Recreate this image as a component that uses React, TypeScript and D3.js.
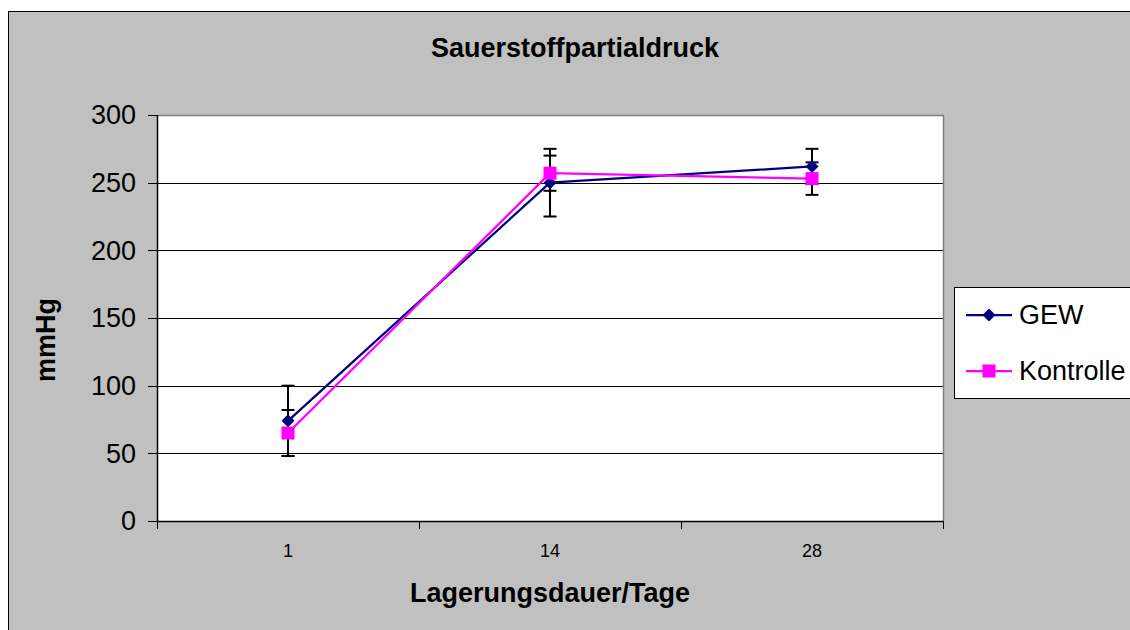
import React from "react";
import * as d3 from "d3";

const categories = ["1", "14", "28"];
const yTicks = [0, 50, 100, 150, 200, 250, 300];
const gewValues = [74, 250, 262];
const gewErrors = [26, 25, 13];
const kontrolleValues = [65, 257, 253];
const kontrolleErrors = [17, 13, 12];
const seriesNames = ["GEW", "Kontrolle"];

const W = 1130;
const H = 630;
const plot = { left: 157, right: 943, top: 115, bottom: 521 };
const FONT = "Liberation Sans, Arial, sans-serif";

export default function App() {
  const x = d3.scaleBand<string>().domain(categories).range([plot.left, plot.right]);
  const y = d3.scaleLinear().domain([0, 300]).range([plot.bottom, plot.top]);
  const cx = (c: string) => (x(c) as number) + x.bandwidth() / 2;
  const line = d3
    .line<number>()
    .x((_, i) => cx(categories[i]))
    .y((v) => y(v));

  const series = [
    { name: seriesNames[0], values: gewValues, errors: gewErrors, color: "#000080", marker: "diamond" },
    { name: seriesNames[1], values: kontrolleValues, errors: kontrolleErrors, color: "#FF00FF", marker: "square" },
  ];

  const marker = (kind: string, px: number, py: number, color: string, key: string) =>
    kind === "diamond" ? (
      <path key={key} d={`M${px},${py - 6.5}L${px + 6.5},${py}L${px},${py + 6.5}L${px - 6.5},${py}Z`} fill={color} />
    ) : (
      <rect key={key} x={px - 6.5} y={py - 6.5} width={13} height={13} fill={color} />
    );

  const boundaries = [...categories.map((c) => x(c) as number), plot.right];

  return (
    <svg width={W} height={H} style={{ position: "absolute", left: 0, top: 0 }}>
      <rect x={0} y={0} width={W} height={H} fill="#ffffff" />
      <rect x={8.5} y={11.5} width={1140} height={640} fill="#c0c0c0" stroke="#000" strokeWidth={1} />
      {/* title */}
      <text x={575} y={57} textAnchor="middle" fontFamily={FONT} fontWeight="bold" fontSize={27}>
        Sauerstoffpartialdruck
      </text>
      {/* plot area */}
      <rect x={plot.left} y={plot.top} width={plot.right - plot.left} height={plot.bottom - plot.top} fill="#fff" />
      {yTicks.slice(1).map((t) => (
        <line key={"g" + t} x1={plot.left} x2={plot.right} y1={Math.round(y(t)) + 0.5} y2={Math.round(y(t)) + 0.5} stroke="#000" strokeWidth={1} />
      ))}
      {/* plot border top/right gray */}
      <path d={`M${plot.left},${plot.top + 0.5}H${plot.right + 0.5}V${plot.bottom}`} fill="none" stroke="#808080" strokeWidth={1.5} />
      {/* axes */}
      <line x1={plot.left + 0.5} x2={plot.left + 0.5} y1={plot.top} y2={plot.bottom + 1} stroke="#000" strokeWidth={1.5} />
      <line x1={plot.left} x2={plot.right + 1} y1={plot.bottom + 0.5} y2={plot.bottom + 0.5} stroke="#000" strokeWidth={1.5} />
      {yTicks.map((t) => (
        <g key={"yt" + t}>
          <line x1={plot.left - 9} x2={plot.left} y1={Math.round(y(t)) + 0.5} y2={Math.round(y(t)) + 0.5} stroke="#000" strokeWidth={1} />
          <text x={136} y={y(t)} dy="0.35em" textAnchor="end" fontFamily={FONT} fontSize={27}>
            {t}
          </text>
        </g>
      ))}
      {boundaries.map((b, i) => (
        <line key={"xt" + i} x1={Math.round(b) + 0.5} x2={Math.round(b) + 0.5} y1={plot.bottom} y2={plot.bottom + 8} stroke="#000" strokeWidth={1} />
      ))}
      {categories.map((c) => (
        <text key={"xl" + c} x={cx(c)} y={557} textAnchor="middle" fontFamily={FONT} fontSize={18}>
          {c}
        </text>
      ))}
      {/* axis titles */}
      <text x={550} y={602} textAnchor="middle" fontFamily={FONT} fontWeight="bold" fontSize={27}>
        Lagerungsdauer/Tage
      </text>
      <text transform="translate(55,340) rotate(-90)" textAnchor="middle" fontFamily={FONT} fontWeight="bold" fontSize={27}>
        mmHg
      </text>
      {/* lines */}
      {series.map((s) => (
        <path key={"l" + s.name} d={line(s.values) as string} fill="none" stroke={s.color} strokeWidth={2.25} />
      ))}
      {/* error bars */}
      {series.map((s) =>
        s.values.map((v, i) => {
          const px = cx(categories[i]);
          const yt = y(v + s.errors[i]);
          const yb = y(v - s.errors[i]);
          return (
            <g key={"e" + s.name + i} stroke="#000" strokeWidth={2}>
              <line x1={px} x2={px} y1={yt} y2={yb} />
              <line x1={px - 6.5} x2={px + 6.5} y1={yt} y2={yt} />
              <line x1={px - 6.5} x2={px + 6.5} y1={yb} y2={yb} />
            </g>
          );
        })
      )}
      {/* markers */}
      {series.map((s) => s.values.map((v, i) => marker(s.marker, cx(categories[i]), y(v), s.color, "m" + s.name + i)))}
      {/* legend */}
      <rect x={954.5} y={287.5} width={200} height={111} fill="#fff" stroke="#000" strokeWidth={1} />
      {series.map((s, i) => {
        const ly = 315 + i * 56;
        return (
          <g key={"lg" + s.name}>
            <line x1={966} x2={1012} y1={ly} y2={ly} stroke={s.color} strokeWidth={2.25} />
            {marker(s.marker, 989, ly, s.color, "lm" + s.name)}
            <text x={1019} y={ly} dy="0.35em" fontFamily={FONT} fontSize={27}>
              {s.name}
            </text>
          </g>
        );
      })}
    </svg>
  );
}
